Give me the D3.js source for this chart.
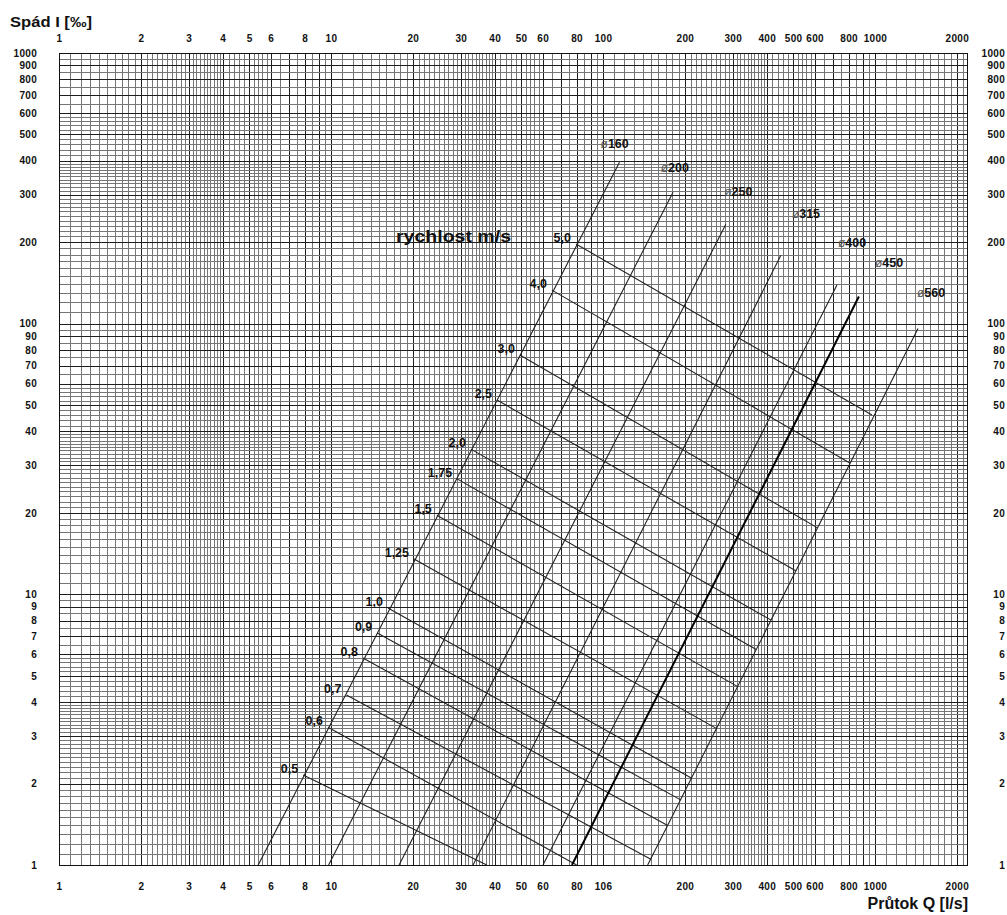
<!DOCTYPE html>
<html>
<head>
<meta charset="utf-8">
<script src="https://cdn.jsdelivr.net/npm/d3@7"></script>
<style>
  body { margin: 0; background: #fff; }
  svg text { font-family: "Liberation Sans", Arial, sans-serif; font-weight: bold; fill: #111; }
</style>
</head>
<body>
<div id="chart-area"></div>
<script>
// Nomogram: spád I [‰] vs průtok Q [l/s], log-log

const MARGIN = { LEFT: 59, RIGHT: 40, TOP: 53, BOTTOM: 50 }
const WIDTH = 1007 - MARGIN.LEFT - MARGIN.RIGHT
const HEIGHT = 915 - MARGIN.TOP - MARGIN.BOTTOM

// axes
const qDomain = [1, 2180]
const iDomain = [1, 1000]
const xTicks = [1, 2, 3, 4, 5, 6, 8, 10, 20, 30, 40, 50, 60, 80, 100, 200, 300, 400, 500, 600, 800, 1000, 2000]
const xTopLabels = ["1", "2", "3", "4", "5", "6", "8", "10", "20", "30", "40", "50", "60", "80", "100", "200", "300", "400", "500", "600", "800", "1000", "2000"]
const xBottomLabels = ["1", "2", "3", "4", "5", "6", "8", "10", "20", "30", "40", "50", "60", "80", "106", "200", "300", "400", "500", "600", "800", "1000", "2000"]
const yTicks = [1, 2, 3, 4, 5, 6, 7, 8, 9, 10, 20, 30, 40, 50, 60, 70, 80, 90, 100, 200, 300, 400, 500, 600, 700, 800, 900, 1000]

// grid subdivisions inside one decade: [from, to, step]
const gridParts = [[1, 2, 0.1], [2, 4, 0.1], [4, 6, 0.2], [6, 10, 0.5]]

// pipe diameters: line from I = 1 up to the top end
const diameters = ["160", "200", "250", "315", "400", "450", "560"]
const diamQBottom = [5.4, 9.8, 17.8, 33.3, 60.2, 76.9, 146]
const diamQTop = [115, 181, 283, 451, 725, 873, 1440]
const diamITop = [395, 306, 233, 179, 139, 126, 96]
const diamLabelQ = [98, 163, 279, 495, 731, 1000, 1427]
const diamLabelI = [445, 363, 296, 246, 192, 162, 125]
const boldDiameter = "450"

// velocity lines [m/s]
const velocities = ["0,5", "0,6", "0,7", "0,8", "0,9", "1,0", "1,25", "1,5", "1,75", "2,0", "2,5", "3,0", "4,0", "5,0"]
const velQStart = [7.9, 9.75, 11.4, 13.1, 14.8, 16.2, 20.2, 24.5, 29.1, 32.7, 40.8, 49.5, 64.9, 79.6]
const velIStart = [2.15, 3.23, 4.25, 5.82, 7.2, 8.9, 13.5, 19.6, 26.7, 34.4, 52.2, 76.6, 133, 197]
const velQEnd = [37.4, 80, 150, 173, 193, 212, 262, 313, 366, 415, 513, 615, 811, 975]
const velIEnd = [1, 1, 1.05, 1.4, 1.74, 2.09, 3.19, 4.56, 6.25, 8.03, 12.2, 17.6, 30.5, 46]

const svg = d3.select("#chart-area").append("svg")
  .attr("width", WIDTH + MARGIN.LEFT + MARGIN.RIGHT)
  .attr("height", HEIGHT + MARGIN.TOP + MARGIN.BOTTOM)

const g = svg.append("g")
  .attr("transform", `translate(${MARGIN.LEFT}, ${MARGIN.TOP})`)

const x = d3.scaleLog().domain(qDomain).range([0, WIDTH])
const y = d3.scaleLog().domain(iDomain).range([HEIGHT, 0])

function gridValues(domain) {
  const vals = []
  for (let dec = 1; dec <= domain[1]; dec *= 10) {
    gridParts.forEach(([a, b, step]) => {
      for (let v = a; v < b - 1e-9; v += step) {
        const val = +(v * dec).toPrecision(6)
        if (val <= domain[1]) vals.push(val)
      }
    })
  }
  vals.push(domain[1])
  return vals
}
const isMajor = v => {
  const k = Math.pow(10, Math.floor(Math.log10(v) + 1e-9))
  return Math.abs(v / k - Math.round(v / k)) < 1e-6
}
const crisp = v => Math.round(v) + 0.5

// grid
const grid = g.append("g").attr("class", "grid")
grid.selectAll(".vline")
  .data(gridValues(qDomain))
  .enter().append("line")
    .attr("x1", d => crisp(x(d))).attr("x2", d => crisp(x(d)))
    .attr("y1", 0).attr("y2", HEIGHT)
    .attr("stroke", d => isMajor(d) ? "#1e1e1e" : "#767676")
    .attr("stroke-width", 1)
grid.selectAll(".hline")
  .data(gridValues(iDomain))
  .enter().append("line")
    .attr("y1", d => crisp(y(d))).attr("y2", d => crisp(y(d)))
    .attr("x1", 0).attr("x2", WIDTH)
    .attr("stroke", d => isMajor(d) ? "#1e1e1e" : "#767676")
    .attr("stroke-width", 1)

g.append("rect")
  .attr("x", 0.5).attr("y", 0.5)
  .attr("width", WIDTH).attr("height", HEIGHT)
  .attr("fill", "none").attr("stroke", "#111")

// axes
function styleAxis(sel) {
  sel.select(".domain").remove()
  sel.selectAll("line").remove()
  sel.selectAll("text")
    .attr("font-size", "10px")
    .attr("letter-spacing", "0.3px")
    .attr("font-family", "'Liberation Sans', Arial, sans-serif")
    .attr("font-weight", "bold")
    .attr("fill", "#222")
}

g.append("g")
  .call(d3.axisTop(x).tickValues(xTicks).tickSize(0).tickPadding(11)
    .tickFormat((d, i) => xTopLabels[i]))
  .call(styleAxis)

g.append("g")
  .attr("transform", `translate(0, ${HEIGHT})`)
  .call(d3.axisBottom(x).tickValues(xTicks).tickSize(0).tickPadding(18)
    .tickFormat((d, i) => xBottomLabels[i]))
  .call(styleAxis)

g.append("g")
  .call(d3.axisLeft(y).tickValues(yTicks).tickSize(0).tickPadding(22)
    .tickFormat(d => d + ""))
  .call(styleAxis)

g.append("g")
  .attr("transform", `translate(${WIDTH}, 0)`)
  .call(d3.axisRight(y).tickValues(yTicks).tickSize(0).tickPadding(38)
    .tickFormat(d => d + ""))
  .call(styleAxis)
  .selectAll("text").attr("text-anchor", "end")

// velocity lines
const line = d3.line().x(d => x(d[0])).y(d => y(d[1]))

g.selectAll(".vel")
  .data(velocities)
  .enter().append("path")
    .attr("class", "vel")
    .attr("d", (d, i) => line([[velQStart[i], velIStart[i]], [velQEnd[i], velIEnd[i]]]))
    .attr("fill", "none")
    .attr("stroke", "#222")
    .attr("stroke-width", 1.1)

g.selectAll(".vel-label")
  .data(velocities)
  .enter().append("text")
    .attr("class", "vel-label")
    .attr("x", (d, i) => x(velQStart[i]) - 5)
    .attr("y", (d, i) => y(velIStart[i]) - 2)
    .attr("text-anchor", "end")
    .attr("font-size", "12.5px")
    .text(d => d)

// diameter lines
g.selectAll(".diam")
  .data(diameters)
  .enter().append("path")
    .attr("class", "diam")
    .attr("d", (d, i) => line([[diamQBottom[i], 1], [diamQTop[i], diamITop[i]]]))
    .attr("fill", "none")
    .attr("stroke", d => d === boldDiameter ? "#000" : "#222")
    .attr("stroke-width", d => d === boldDiameter ? 2 : 1.1)

const dl = g.selectAll(".diam-label")
  .data(diameters)
  .enter().append("text")
    .attr("class", "diam-label")
    .attr("x", (d, i) => x(diamLabelQ[i]))
    .attr("y", (d, i) => y(diamLabelI[i]))
dl.append("tspan")
  .attr("font-size", "12px").attr("font-weight", "normal").attr("fill", "#555")
  .text("ø")
dl.append("tspan")
  .attr("font-size", "12.5px")
  .text(d => d)

g.append("text")
  .attr("x", 396 - MARGIN.LEFT)
  .attr("y", 242 - MARGIN.TOP)
  .attr("font-size", "16px")
  .attr("textLength", 115)
  .attr("lengthAdjust", "spacingAndGlyphs")
  .text("rychlost m/s")

// axis titles
svg.append("text")
  .attr("x", 10).attr("y", 27)
  .attr("font-size", "15.5px")
  .attr("textLength", 82)
  .attr("lengthAdjust", "spacingAndGlyphs")
  .text("Spád I [‰]")

svg.append("text")
  .attr("x", 968).attr("y", 909)
  .attr("text-anchor", "end")
  .attr("font-size", "16px")
  .text("Průtok Q [l/s]")
</script>
</body>
</html>
